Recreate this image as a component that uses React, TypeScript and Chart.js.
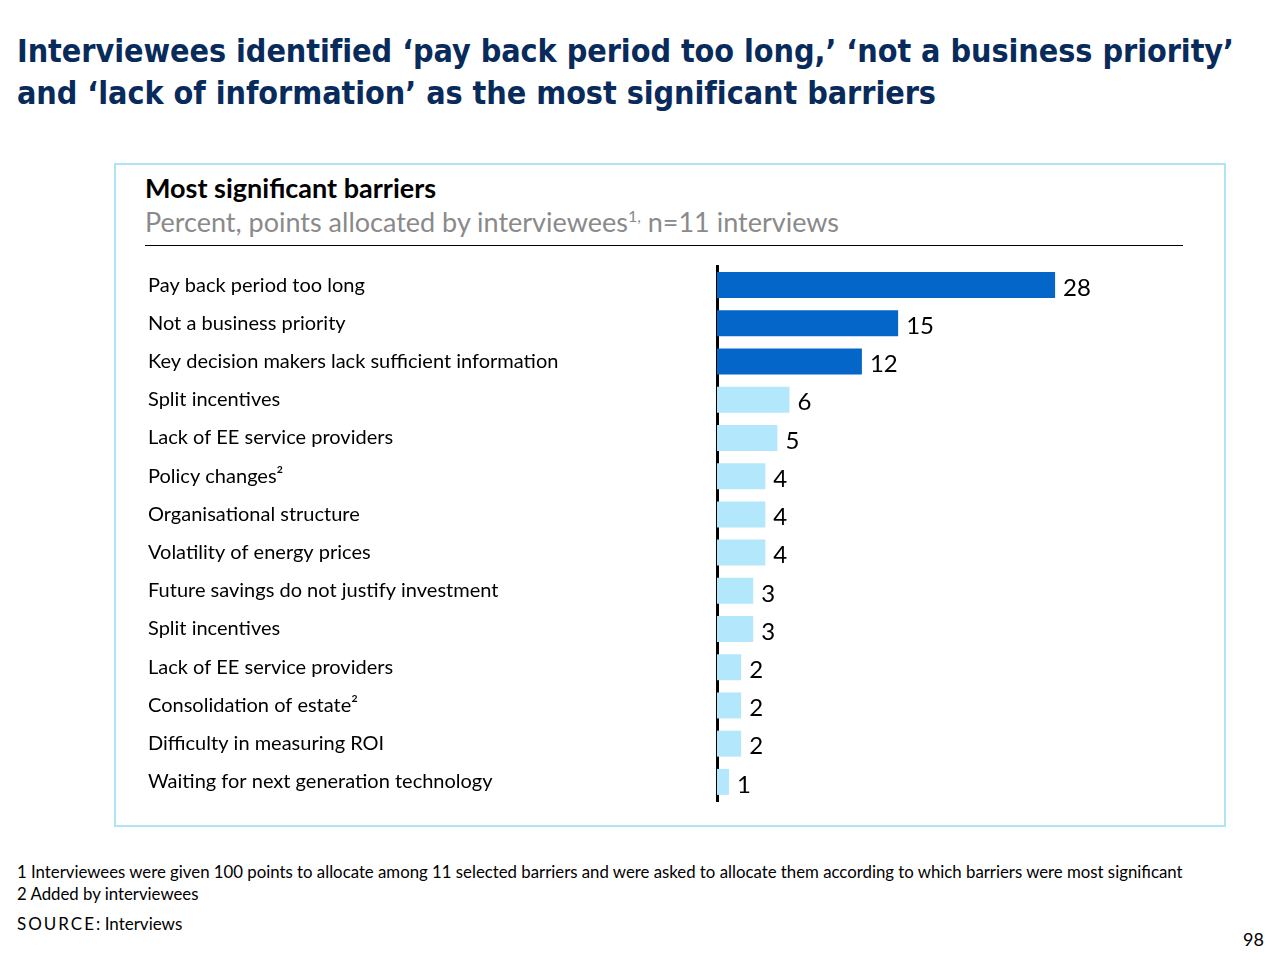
import React, { useEffect, useRef } from "react";
import { Chart, registerables } from "chart.js";

Chart.register(...registerables);

const categories: string[] = [
  "Pay back period too long",
  "Not a business priority",
  "Key decision makers lack sufficient information",
  "Split incentives",
  "Lack of EE service providers",
  "Policy changes²",
  "Organisational structure",
  "Volatility of energy prices",
  "Future savings do not justify investment",
  "Split incentives",
  "Lack of EE service providers",
  "Consolidation of estate²",
  "Difficulty in measuring ROI",
  "Waiting for next generation technology",
];

const values: number[] = [28, 15, 12, 6, 5, 4, 4, 4, 3, 3, 2, 2, 2, 1];

const highlightCount = 3;

const DARK = "#0466c8";
const LIGHT = "#b3e7fb";
const BODY_FONT = "Lato, 'Noto Sans', sans-serif";

const valueLabels = {
  id: "valueLabels",
  afterDatasetsDraw(chart: any) {
    const ctx = chart.ctx;
    const meta = chart.getDatasetMeta(0);
    ctx.save();
    ctx.font = `24px ${BODY_FONT}`;
    ctx.fillStyle = "#000";
    ctx.textAlign = "left";
    ctx.textBaseline = "middle";
    meta.data.forEach((bar: any, i: number) => {
      ctx.fillText(String(values[i]), bar.x + 8, bar.y + 3);
    });
    ctx.restore();
  },
};

function BarChart() {
  const ref = useRef<HTMLCanvasElement | null>(null);
  useEffect(() => {
    if (!ref.current) return;
    const chart = new Chart(ref.current, {
      type: "bar",
      data: {
        labels: categories,
        datasets: [
          {
            data: values,
            backgroundColor: values.map((_, i) => (i < highlightCount ? DARK : LIGHT)),
            categoryPercentage: 1,
            barPercentage: 0.68,
            borderWidth: 0,
          },
        ],
      },
      options: {
        indexAxis: "y",
        animation: false,
        responsive: true,
        maintainAspectRatio: false,
        layout: { padding: { left: 8, top: 4, bottom: 4, right: 0 } },
        plugins: {
          legend: { display: false },
          tooltip: { enabled: false },
        },
        scales: {
          x: {
            display: false,
            min: 0,
            max: 40,
          },
          y: {
            grid: { display: false, drawTicks: false },
            border: { display: true, color: "#000", width: 3 },
            ticks: {
              crossAlign: "far",
              color: "#000",
              font: { family: BODY_FONT, size: 20 },
              padding: 0,
            },
            afterFit(scale: any) {
              scale.width = 569;
              scale.paddingTop = 0;
              scale.paddingBottom = 0;
            },
          },
        },
      },
      plugins: [valueLabels],
    });
    return () => chart.destroy();
  }, []);
  return (
    <div style={{ position: "absolute", left: 140, top: 262, width: 1060, height: 543 }}>
      <canvas ref={ref} />
    </div>
  );
}

export default function App() {
  const titleStyle: React.CSSProperties = {
    position: "absolute",
    left: 17,
    margin: 0,
    fontFamily: "'DejaVu Sans Condensed', 'DejaVu Sans', sans-serif",
    fontWeight: "bold",
    fontSize: 32,
    color: "#082b5c",
    whiteSpace: "nowrap",
    letterSpacing: -0.05,
    lineHeight: "42px",
  };
  return (
    <div
      style={{
        position: "absolute",
        left: 0,
        top: 0,
        width: 1280,
        height: 961,
        background: "#fff",
        overflow: "hidden",
        fontFamily: BODY_FONT,
      }}
    >
      <div style={{ ...titleStyle, top: 30 }}>
        Interviewees identified ‘pay back period too long,’ ‘not a business priority’
      </div>
      <div style={{ ...titleStyle, top: 72 }}>
        and ‘lack of information’ as the most significant barriers
      </div>

      <div
        style={{
          position: "absolute",
          left: 114,
          top: 163,
          width: 1108,
          height: 660,
          border: "2px solid #b0e4f4",
        }}
      />
      <div
        style={{
          position: "absolute",
          left: 145,
          top: 172,
          fontSize: 27,
          lineHeight: "32px",
          fontWeight: "bold",
          color: "#000",
          whiteSpace: "nowrap",
        }}
      >
        Most significant barriers
      </div>
      <div
        style={{
          position: "absolute",
          left: 145,
          top: 206,
          fontSize: 27,
          lineHeight: "32px",
          color: "#8a8a8a",
          whiteSpace: "nowrap",
        }}
      >
        Percent, points allocated by interviewees
        <sup style={{ fontSize: 16, lineHeight: 0 }}>1,</sup> n=11 interviews
      </div>
      <div
        style={{
          position: "absolute",
          left: 145,
          top: 245,
          width: 1038,
          height: 1,
          background: "#000",
        }}
      />

      <BarChart />

      <div
        style={{
          position: "absolute",
          left: 17,
          top: 861,
          fontSize: 16.8,
          lineHeight: "22px",
          color: "#000",
          whiteSpace: "nowrap",
        }}
      >
        <div>
          1 Interviewees were given 100 points to allocate among 11 selected barriers and were asked to allocate them according to which barriers were most significant
        </div>
        <div>2 Added by interviewees</div>
      </div>
      <div
        style={{
          position: "absolute",
          left: 17,
          top: 913,
          fontSize: 17,
          lineHeight: "22px",
          color: "#000",
          whiteSpace: "nowrap",
        }}
      >
        <span style={{ letterSpacing: 2 }}>SOURCE</span>: Interviews
      </div>
      <div
        style={{
          position: "absolute",
          left: 1243,
          top: 928,
          fontSize: 18,
          color: "#000",
        }}
      >
        98
      </div>
    </div>
  );
}
